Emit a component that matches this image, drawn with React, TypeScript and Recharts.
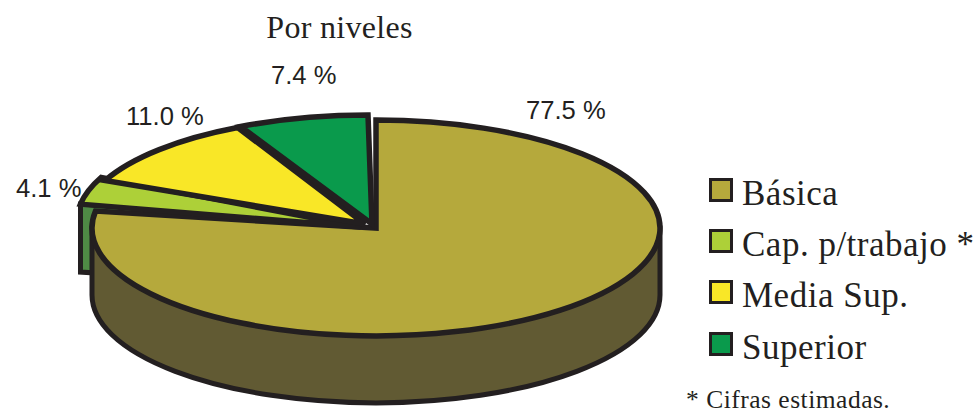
import React from 'react';
import { PieChart, Pie, Legend } from 'recharts';

const categories = ['Básica', 'Cap. p/trabajo *', 'Media Sup.', 'Superior'];
const shares = [77.5, 4.1, 11.0, 7.4];
const valueLabels = ['77.5 %', '4.1 %', '11.0 %', '7.4 %'];
const topColors = ['#b5a93c', '#add038', '#f9e727', '#0a9a4c'];
const wallColors = ['#615a33', '#4f8a45', '#8a8020', '#06602f'];
const title = 'Por niveles';
const footnote = '* Cifras estimadas.';

// presentation only
const INK = '#231f20';
const explode = [[0, 0], [-15, -7], [-11, -4], [-8, -5]];
const apexShift = [[0, 0], [0, 6], [0, 0], [4, 1]];
const labelAt = [[526, 119], [16, 197], [126, 125], [271, 84]];
const RATIO = 0.38;
const DEPTH = 67;
const STROKE = 5.5;
const SERIF = '"Liberation Serif", serif';
const SANS = '"Liberation Sans", sans-serif';

const rows = categories.map((name, i) => ({ name, value: shares[i], fill: topColors[i], wall: wallColors[i], label: valueLabels[i] }));

const rim = (cx: number, cy: number, r: number, t: number) => {
  const a = (t * Math.PI) / 180;
  return [cx + r * Math.cos(a), cy - r * RATIO * Math.sin(a)];
};

const Top = (p: any) => {
  const [dx, dy] = explode[p.index];
  const [ax, ay] = apexShift[p.index];
  const cx = p.cx + dx, cy = p.cy + dy, r = p.outerRadius;
  const [x0, y0] = rim(cx, cy, r, p.startAngle);
  const [x1, y1] = rim(cx, cy, r, p.endAngle);
  const large = Math.abs(p.endAngle - p.startAngle) > 180 ? 1 : 0;
  return <path d={`M${cx + ax},${cy + ay}L${x0},${y0}A${r},${r * RATIO} 0 ${large} 1 ${x1},${y1}Z`} fill={p.fill} stroke={INK} strokeWidth={STROKE} strokeLinejoin="miter" />;
};

const BasicWall = (p: any) => {
  const r = p.outerRadius;
  const [rx, ry] = rim(p.cx, p.cy, r, 0);
  const [lx, ly] = rim(p.cx, p.cy, r, 180);
  return <path d={`M${rx},${ry}L${rx},${ry + DEPTH}A${r},${r * RATIO} 0 0 1 ${lx},${ly + DEPTH}L${lx},${ly}Z`} fill={p.wall} stroke={INK} strokeWidth={5} />;
};

const CutFace = (p: any) => {
  const [dx, dy] = explode[p.index];
  const cx = p.cx + dx, cy = p.cy + dy;
  const [x, y] = rim(cx, cy, p.outerRadius, p.startAngle);
  return <path d={`M${x},${y}L${x},${y + DEPTH + 1}L${cx},${cy + DEPTH + 1}L${cx},${cy}Z`} fill={p.wall} stroke={INK} strokeWidth={5} />;
};

const backShape = (p: any) => (p.index === 1 ? <CutFace {...p} /> : <g />);
const frontShape = (p: any) => (
  <g>
    {p.index === 0 ? <BasicWall {...p} /> : null}
    <Top {...p} />
  </g>
);

const renderLabel = (p: any) => (
  <text x={labelAt[p.index][0]} y={labelAt[p.index][1]} fontFamily={SANS} fontSize={25.6} fill={INK} textAnchor="start">
    {valueLabels[p.index]}
  </text>
);

const legendTops = [178, 229, 280, 332];

const LegendBox = () => (
  <div style={{ position: 'absolute', left: 0, top: 0, width: 975, height: 414 }}>
    {categories.map((c, i) => (
      <React.Fragment key={c}>
        <div style={{ position: 'absolute', left: 709, top: legendTops[i], width: 24, height: 24, boxSizing: 'border-box', background: topColors[i], border: `3px solid ${INK}` }} />
        <div style={{ position: 'absolute', left: 742, top: legendTops[i] - 3, lineHeight: '37px', fontFamily: SERIF, fontSize: 35, letterSpacing: 0.5, color: INK, whiteSpace: 'nowrap' }}>{c}</div>
      </React.Fragment>
    ))}
    <div style={{ position: 'absolute', left: 686, top: 388, lineHeight: '24px', fontFamily: SERIF, fontSize: 25.5, letterSpacing: 0.5, color: INK, whiteSpace: 'nowrap' }}>{footnote}</div>
  </div>
);

export default function App() {
  return (
    <div style={{ position: 'absolute', left: 0, top: 0, width: 975, height: 414 }}>
      <PieChart width={975} height={414} margin={{ top: 0, right: 0, bottom: 0, left: 0 }}>
        <Pie data={rows} dataKey="value" nameKey="name" cx={376} cy={228} outerRadius={284} startAngle={90} endAngle={-270} shape={backShape} isAnimationActive={false} legendType="none" stroke="none" />
        <Pie data={rows} dataKey="value" nameKey="name" cx={376} cy={228} outerRadius={284} startAngle={90} endAngle={-270} shape={frontShape} isAnimationActive={false} label={renderLabel} labelLine={false} />
        <text x={339.5} y={38} textAnchor="middle" fontFamily={SERIF} fontSize={32} letterSpacing={0.3} fill={INK}>{title}</text>
        <Legend content={LegendBox} wrapperStyle={{ position: 'absolute', left: 0, top: 0, width: 975, height: 414, pointerEvents: 'none' }} />
      </PieChart>
    </div>
  );
}
